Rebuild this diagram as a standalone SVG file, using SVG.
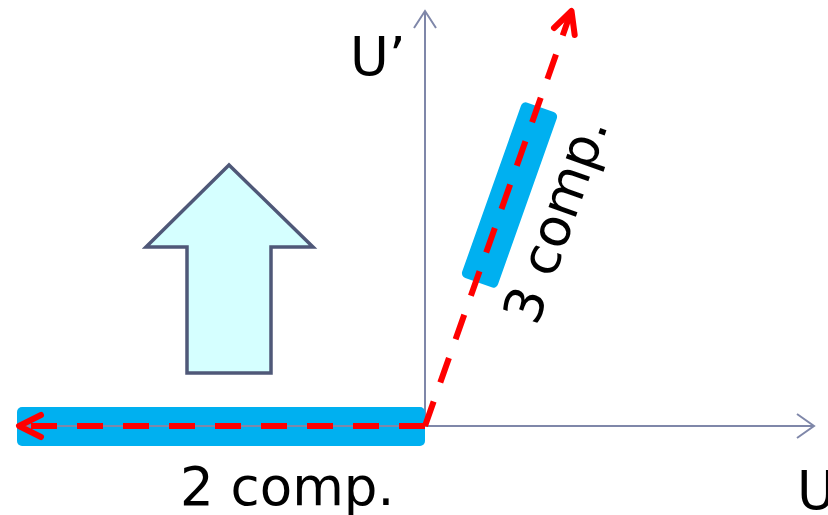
<svg xmlns="http://www.w3.org/2000/svg" width="828" height="515" viewBox="0 0 828 515">
<style>
.axis{stroke:#7f87a9;stroke-width:2;fill:none}
.bar{fill:#00b0f0}
.red{stroke:#ff0000;stroke-width:6;fill:none;stroke-dasharray:26 20}
.redhead{stroke:#ff0000;stroke-width:6;fill:none;stroke-linecap:round;stroke-linejoin:round}
.lbl{font-family:"DejaVu Sans",Verdana,sans-serif;font-size:53px;fill:#000}
</style>
<rect width="828" height="515" fill="#ffffff"/>
<g id="axis-v">
<line class="axis" x1="425" y1="426" x2="425" y2="11"/>
<polyline class="axis" points="414,28 425,11 436,28"/>
</g>
<g id="bar-2comp"><rect class="bar" x="17" y="407" width="408" height="39" rx="5"/></g>
<g id="bar-3comp"><rect class="bar" x="-19" y="-93" width="38" height="186" rx="5" transform="translate(509.5,195) rotate(19.5)"/></g>
<g id="axis-h">
<line class="axis" x1="20" y1="426" x2="814" y2="426"/>
<polyline class="axis" points="797,414 814,426 797,438"/>
</g>
<g id="big-arrow">
<polygon points="229,165 146,247 187,247 187,373 271,373 271,247 313,247" fill="#d5ffff" stroke="#4f5878" stroke-width="3.5" stroke-linejoin="miter"/>
</g>
<g id="connectors">
<line class="red" x1="425" y1="426" x2="20" y2="426"/>
<polyline class="redhead" points="41,415 19,426 41,437"/>
<line class="red" x1="425" y1="426" x2="571" y2="12"/>
<polyline class="redhead" points="554,28 571.5,11 574.7,35"/>
</g>
<g id="labels">
<text class="lbl" x="350" y="75">U’</text>
<text class="lbl" x="797" y="509">U</text>
<text class="lbl" x="180" y="505">2 comp.</text>
<text class="lbl" transform="translate(537,327) rotate(-70.54)">3 comp.</text>
</g>
</svg>
